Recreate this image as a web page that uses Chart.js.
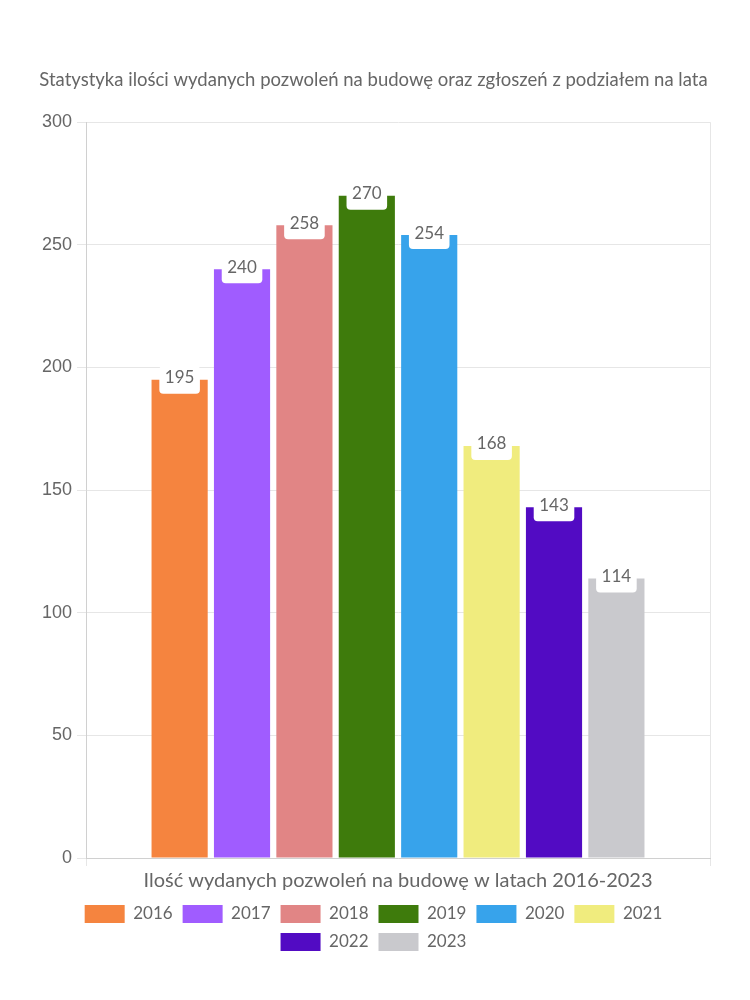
<!DOCTYPE html>
<html>
<head>
<meta charset="utf-8">
<script src="https://cdn.jsdelivr.net/npm/chart.js@4"></script>
<style>
html,body{margin:0;padding:0;background:#fff;}
#wrap{width:750px;height:1000px;}
</style>
</head>
<body>
<div id="wrap"><canvas id="c" width="750" height="1000"></canvas></div>
<script>
const categories = ["Ilość wydanych pozwoleń na budowę w latach 2016-2023"];
const years = ["2016","2017","2018","2019","2020","2021","2022","2023"];
const values = [195, 240, 258, 270, 254, 168, 143, 114];
const colors = ["#F5843F","#A05CFF","#E18585","#3E7B0C","#37A3EB","#F0EC7E","#520BC3","#C9C9CD"];
const yTicks = [0, 50, 100, 150, 200, 250, 300];
const titleText = "Statystyka ilości wydanych pozwoleń na budowę oraz zgłoszeń z podziałem na lata";

const labelFont = "17px Lato, 'Noto Sans', sans-serif";

const valueLabels = {
  id: 'valueLabels',
  afterDatasetsDraw(chart) {
    const ctx = chart.ctx;
    ctx.save();
    ctx.font = labelFont;
    ctx.textAlign = 'center';
    ctx.textBaseline = 'middle';
    chart.data.datasets.forEach((ds, i) => {
      const meta = chart.getDatasetMeta(i);
      if (meta.hidden) return;
      meta.data.forEach((el, j) => {
        const txt = String(ds.data[j]);
        const w = ctx.measureText(txt).width + 11;
        const h = 28;
        const x = el.x, y = el.y;
        ctx.fillStyle = '#fff';
        ctx.beginPath();
        ctx.roundRect(x - w/2, y - h/2, w, h, 4);
        ctx.fill();
        ctx.fillStyle = '#666';
        ctx.fillText(txt, x, y - 2);
      });
    });
    ctx.restore();
  }
};

new Chart(document.getElementById('c'), {
  type: 'bar',
  data: {
    labels: categories,
    datasets: years.map((yr, i) => ({
      label: yr,
      data: [values[i]],
      backgroundColor: colors[i],
      borderWidth: 0
    }))
  },
  options: {
    responsive: false,
    animation: false,
    layout: { padding: { left: 37, right: 40, top: 69, bottom: 39 } },
    plugins: {
      title: {
        display: true,
        text: titleText,
        color: '#666',
        font: { family: "Lato, 'Noto Sans', sans-serif", size: 18.5, weight: 'normal' },
        padding: { top: 0, bottom: 31 }
      },
      legend: {
        position: 'bottom',
        labels: {
          color: '#666',
          boxWidth: 40,
          boxHeight: 18,
          padding: 10,
          font: { family: "Lato, 'Noto Sans', sans-serif", size: 17 }
        }
      },
      tooltip: { enabled: false }
    },
    scales: {
      x: {
        grid: { color: '#e6e6e6', tickLength: 8 },
        border: { color: '#d0d0d0' },
        ticks: { color: '#666', padding: 4, font: { family: "Lato, 'Noto Sans', sans-serif", size: 20, lineHeight: 1.05 } }
      },
      y: {
        min: 0, max: 300,
        afterBuildTicks(axis) { axis.ticks = yTicks.map(v => ({ value: v })); },
        grid: { color: '#e6e6e6', tickLength: 9 },
        border: { color: '#d0d0d0' },
        ticks: { color: '#666', font: { family: "'Liberation Sans', Arial, sans-serif", size: 18 }, padding: 5 }
      }
    }
  },
  plugins: [valueLabels]
});
</script>
</body>
</html>
